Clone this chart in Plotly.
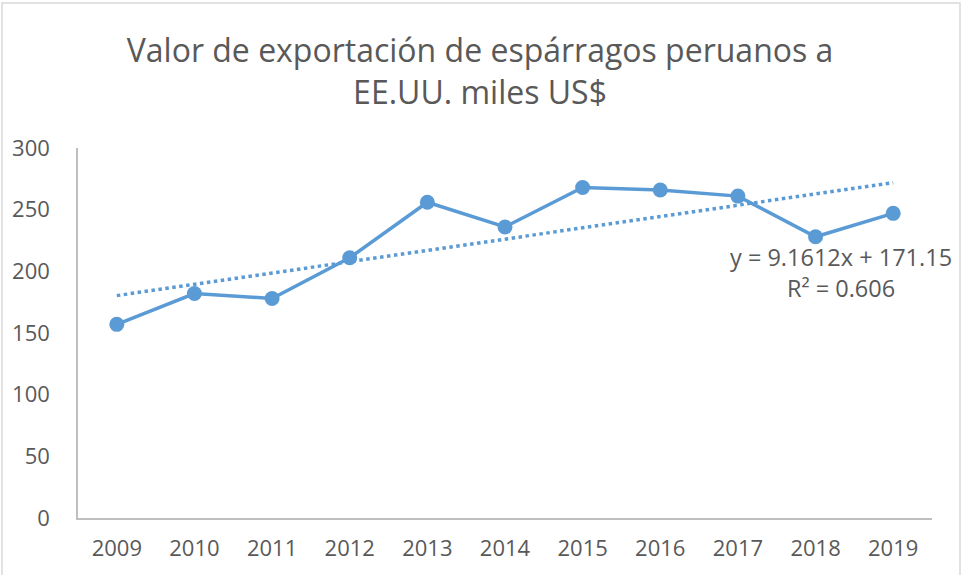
import plotly.graph_objects as go

years = ["2009", "2010", "2011", "2012", "2013", "2014", "2015", "2016", "2017", "2018", "2019"]
values = [157, 182, 178, 211, 256, 236, 268, 266, 261, 228, 247]
slope = 9.1612
intercept = 171.15
r2 = 0.606
y_ticks = [0, 50, 100, 150, 200, 250, 300]

trend = [slope * (i + 1) + intercept for i in range(len(years))]

blue = "#5B9BD5"
txt = "#595959"
font = "Open Sans"

fig = go.Figure()
fig.add_trace(go.Scatter(x=years, y=trend, mode="lines",
                         line=dict(color=blue, width=3.5, dash="dot"),
                         hoverinfo="skip", showlegend=False))
fig.add_trace(go.Scatter(x=years, y=values, mode="lines+markers",
                         line=dict(color=blue, width=3.5),
                         marker=dict(color=blue, size=15),
                         showlegend=False))

fig.add_annotation(x=9.33, y=199, xref="x", yref="y",
                   text=f"y = {slope}x + {intercept}<br>R² = {r2}",
                   showarrow=False, align="center", xanchor="center",
                   font=dict(family=font, size=23.5, color=txt))

fig.update_layout(
    width=962, height=575,
    margin=dict(l=78, r=30, t=148, b=57, autoexpand=False),
    paper_bgcolor="white", plot_bgcolor="white",
    title=dict(text="Valor de exportación de espárragos peruanos a<br>EE.UU. miles US$",
               x=0.499, xref="container", xanchor="center",
               y=0.892, yref="container", yanchor="middle",
               font=dict(family=font, size=32, color=txt)),
    xaxis=dict(type="category", range=[-0.5, len(years) - 0.5], showline=True,
               linecolor="#BFBFBF", linewidth=1.5,
               showgrid=False, zeroline=False, ticks="", automargin=False,
               tickfont=dict(family=font, size=22, color=txt),
               ticklabelstandoff=10),
    yaxis=dict(range=[0, 300], tickvals=y_ticks, showline=True, linecolor="#BFBFBF",
               linewidth=1.5, showgrid=False, zeroline=False, ticks="", automargin=False,
               tickfont=dict(family=font, size=22, color=txt),
               ticklabelstandoff=22),
    shapes=[dict(type="rect", xref="paper", yref="paper",
                 x0=-0.089, x1=1.0328, y0=-0.17, y1=1.392,
                 line=dict(color="#D9D9D9", width=1.5), layer="below")],
)

fig.write_html("out.html", config={"displayModeBar": False},
               post_script="document.body.style.margin='0px';")
